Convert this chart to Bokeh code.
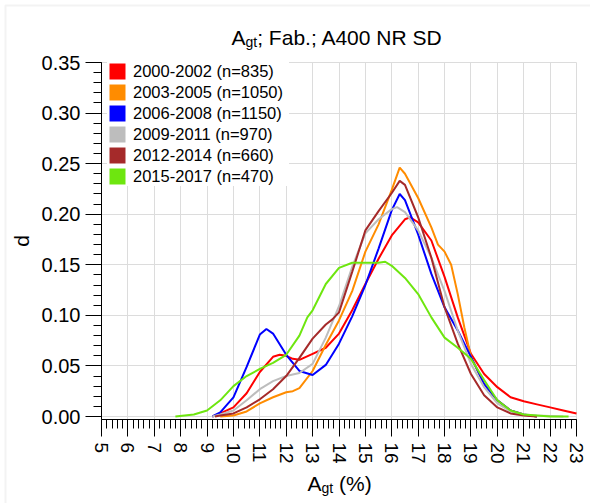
import math
from bokeh.plotting import figure
from bokeh.models import (Range1d, SingleIntervalTicker, Legend, LegendItem, Label,
                          PrintfTickFormatter, BoxAnnotation)
from bokeh.embed import file_html
from bokeh.resources import INLINE

# ---------------- data ----------------
series_labels = ["2000-2002 (n=835)", "2003-2005 (n=1050)", "2006-2008 (n=1150)",
                 "2009-2011 (n=970)", "2012-2014 (n=660)", "2015-2017 (n=470)"]
series_colors = ["#ff0000", "#ff8c00", "#0000ff", "#bdbdbd", "#a52a2a", "#6ee60f"]

x_2000 = [9.2, 9.5, 10, 10.5, 11, 11.5, 11.75, 12, 12.25, 12.5, 13, 13.5, 14, 14.5, 15, 15.5,
          16, 16.5, 16.7, 17, 17.5, 18, 18.5, 19, 19.5, 20, 20.5, 21, 21.5, 22, 22.5, 23]
d_2000 = [0.0, 0.003, 0.009, 0.023, 0.044, 0.059, 0.061, 0.060, 0.057, 0.056, 0.062, 0.068,
          0.082, 0.105, 0.131, 0.156, 0.179, 0.195, 0.197, 0.192, 0.174, 0.138, 0.098, 0.062,
          0.042, 0.029, 0.019, 0.015, 0.012, 0.009, 0.006, 0.003]

x_2003 = [9.5, 10, 10.5, 11, 11.5, 12, 12.25, 12.5, 13, 13.5, 14, 14.5, 15, 15.5, 16, 16.3,
          16.5, 17, 17.5, 17.75, 18, 18.25, 18.5, 18.75, 19, 19.5, 20, 20.5, 21, 21.5]
d_2003 = [0.0, 0.001, 0.005, 0.013, 0.019, 0.024, 0.025, 0.028, 0.045, 0.071, 0.095, 0.124,
          0.163, 0.190, 0.224, 0.246, 0.240, 0.216, 0.187, 0.170, 0.163, 0.150, 0.121, 0.088,
          0.059, 0.032, 0.016, 0.006, 0.002, 0.0]

x_2006 = [9.2, 9.5, 10, 10.5, 11, 11.25, 11.5, 12, 12.5, 13, 13.5, 14, 14.5, 15, 15.5, 16,
          16.3, 16.5, 17, 17.5, 18, 18.5, 19, 19.5, 20, 20.5, 21, 21.5]
d_2006 = [0.0, 0.004, 0.019, 0.049, 0.081, 0.0865, 0.082, 0.061, 0.045, 0.041, 0.051, 0.072,
          0.099, 0.130, 0.166, 0.204, 0.220, 0.214, 0.180, 0.141, 0.108, 0.085, 0.059, 0.032,
          0.016, 0.006, 0.002, 0.0]

x_2009 = [9.2, 9.5, 10, 10.5, 11, 11.5, 12, 12.5, 13, 13.5, 14, 14.5, 15, 15.5, 16, 16.2,
          16.5, 17, 17.5, 18, 18.5, 19, 19.5, 20, 20.5, 21, 21.5, 22.5]
d_2009 = [0.0, 0.002, 0.006, 0.016, 0.027, 0.035, 0.040, 0.043, 0.052, 0.078, 0.109, 0.148,
          0.181, 0.195, 0.205, 0.207, 0.202, 0.184, 0.157, 0.124, 0.085, 0.052, 0.029, 0.013,
          0.005, 0.002, 0.001, 0.0]

x_2012 = [9.3, 9.5, 10, 10.5, 11, 11.5, 12, 12.5, 13, 13.5, 13.75, 14, 14.5, 15, 15.5, 16,
          16.3, 16.5, 17, 17.5, 18, 18.5, 19, 19.5, 20, 20.5, 21, 21.5]
d_2012 = [0.0, 0.001, 0.003, 0.009, 0.017, 0.027, 0.040, 0.058, 0.077, 0.091, 0.096, 0.103,
          0.143, 0.184, 0.203, 0.221, 0.233, 0.229, 0.197, 0.157, 0.108, 0.072, 0.042, 0.021,
          0.009, 0.003, 0.001, 0.0]

x_2015 = [7.8, 8.5, 9, 9.5, 10, 10.5, 11, 11.5, 12, 12.5, 12.8, 13, 13.5, 14, 14.5, 15, 15.5,
          15.75, 16, 16.5, 17, 17.5, 18, 18.5, 19, 19.5, 20, 20.5, 21, 22, 22.7]
d_2015 = [0.0, 0.002, 0.006, 0.016, 0.030, 0.040, 0.047, 0.053, 0.061, 0.080, 0.098, 0.105,
          0.131, 0.147, 0.152, 0.152, 0.152, 0.153, 0.149, 0.137, 0.121, 0.098, 0.078, 0.068,
          0.057, 0.036, 0.016, 0.006, 0.002, 0.0, 0.0]

series_x = [x_2000, x_2003, x_2006, x_2009, x_2012, x_2015]
series_d = [d_2000, d_2003, d_2006, d_2009, d_2012, d_2015]

x_axis_min, x_axis_max, x_tick_step = 5, 23, 1
y_axis_max, y_tick_step = 0.35, 0.05

# ---------------- layout (pixel geometry of the reference) ----------------
W, H = 590, 503
PX_XMIN, PX_XMAX = 101, 576      # x = 5 and x = 23
PX_D0, PX_DMAX = 416, 62         # d = 0 and d = 0.35
PX_XAXIS = 419                   # pixel row of the bottom axis line
FONT = "Liberation Sans"


def px2x(px):
    return x_axis_min + (px - PX_XMIN) * (x_axis_max - x_axis_min) / (PX_XMAX - PX_XMIN)


def px2y(py):
    return (PX_D0 - py) * y_axis_max / (PX_D0 - PX_DMAX)


y_axis_bottom = px2y(PX_XAXIS)

p = figure(width=W, height=H, title=None,
           x_range=Range1d(px2x(0), px2x(W)), y_range=Range1d(px2y(H), px2y(0)),
           output_backend="svg", toolbar_location=None, min_border=0)
p.outline_line_color = None
p.background_fill_color = "white"
p.border_fill_color = "white"

# axes, pinned at the data location of the reference's axis lines
xax = p.xaxis[0]
yax = p.yaxis[0]
xax.ticker = SingleIntervalTicker(interval=x_tick_step, num_minor_ticks=5)
yax.ticker = SingleIntervalTicker(interval=y_tick_step, num_minor_ticks=5)
yax.formatter = PrintfTickFormatter(format="%.2f")
xax.fixed_location = y_axis_bottom
yax.fixed_location = x_axis_min
xax.bounds = (x_axis_min, x_axis_max)
yax.bounds = (y_axis_bottom, y_axis_max + 0.0001)
for ax in (xax, yax):
    ax.axis_line_color = "black"
    ax.major_tick_line_color = "black"
    ax.minor_tick_line_color = "black"
    ax.major_tick_in = 0
    ax.minor_tick_in = 0
    ax.major_label_text_font = FONT
    ax.major_label_text_color = "black"
yax.major_tick_out = 16
yax.minor_tick_out = 8
xax.major_tick_out = 17
xax.minor_tick_out = 9
yax.major_label_text_font_size = "20px"
xax.major_label_text_font_size = "19px"
yax.major_label_standoff = 5
xax.major_label_standoff = 6
xax.major_label_orientation = "vertical"
yax.axis_label = "d"
yax.axis_label_text_font = FONT
yax.axis_label_text_font_size = "21px"
yax.axis_label_text_font_style = "normal"
yax.axis_label_text_color = "black"
yax.axis_label_standoff = 6

# grids restricted to the data area
xg = p.xgrid[0]
yg = p.ygrid[0]
xg.grid_line_color = "#dcdcdc"
yg.grid_line_color = "#dcdcdc"
xg.bounds = (x_axis_min, x_axis_max)
yg.bounds = (0, y_axis_max + 0.0001)
if hasattr(xg, "cross_bounds"):
    xg.cross_bounds = (y_axis_bottom, y_axis_max)
    yg.cross_bounds = (x_axis_min, x_axis_max)
else:
    xg.visible = False
    yg.visible = False
    xt = list(range(x_axis_min, x_axis_max + 1, x_tick_step))
    yt = [i * y_tick_step for i in range(0, 8)]
    p.segment(x0=xt, x1=xt, y0=[y_axis_bottom] * len(xt), y1=[y_axis_max] * len(xt),
              line_color="#dcdcdc", line_width=1)
    p.segment(x0=[x_axis_min] * len(yt), x1=[x_axis_max] * len(yt), y0=yt, y1=yt,
              line_color="#dcdcdc", line_width=1)

# curves
for xs, ds, c in zip(series_x, series_d, series_colors):
    p.line(xs, ds, line_color=c, line_width=2)

# legend with square swatches (swatch renderers hold no drawable point)
nan = float("nan")
items = []
for lab, c in zip(series_labels, series_colors):
    r = p.quad(left=[nan], right=[nan], top=[nan], bottom=[nan], fill_color=c, line_color=None)
    items.append(LegendItem(label=lab, renderers=[r], index=0))
legend = Legend(items=items, location=(PX_XMIN + 6, H - 186), padding=6, spacing=1,
                glyph_width=20, glyph_height=20, label_height=20, label_width=156,
                label_standoff=6, margin=0, border_line_color=None,
                background_fill_color="white", background_fill_alpha=1.0,
                label_text_font=FONT, label_text_font_size="16.5px",
                label_text_color="black")
p.add_layout(legend)


def add_text(px, py, txt, size):
    p.add_layout(Label(x=px2x(px), y=px2y(py), text=txt, text_font=FONT,
                       text_font_size=size, text_align="left",
                       text_baseline="alphabetic", text_color="black"))


# title with subscript
add_text(231, 37, "A", "21px")
add_text(245, 41.5, "gt", "14px")
add_text(256.7, 37, "; Fab.; A400 NR SD", "21px")

# x-axis title with subscript
add_text(307, 483, "A", "21px")
add_text(321, 487, "gt", "14px")
add_text(338.5, 483, "(%)", "21px")

# light frame around the picture
p.add_layout(BoxAnnotation(left=5, right=W + 50, top=5, bottom=H + 50,
                           left_units="canvas", right_units="canvas",
                           top_units="canvas", bottom_units="canvas",
                           fill_alpha=0, line_color="#d6d6d6", line_width=2))

open("out.html", "w").write(file_html(p, INLINE))
